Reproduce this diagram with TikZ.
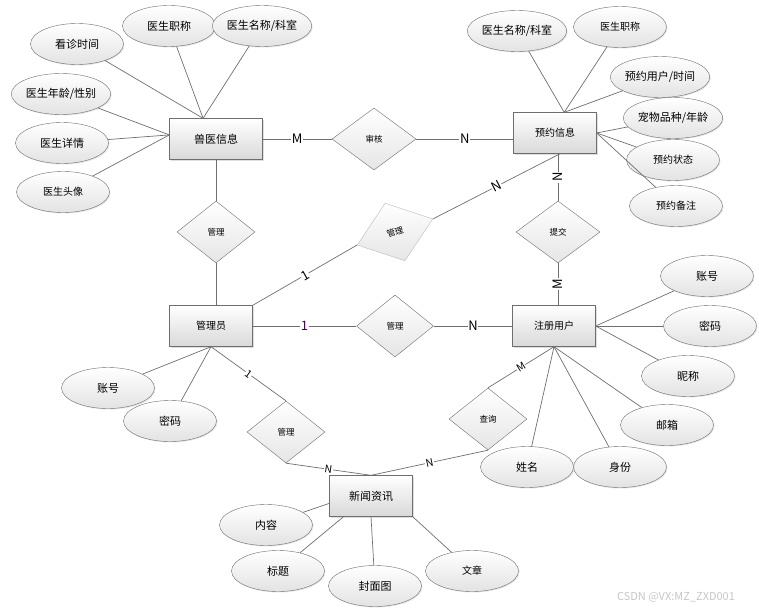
\documentclass[tikz,border=0pt]{standalone}
\usepackage{fontspec}
\setmainfont{Noto Sans CJK SC}
\usetikzlibrary{shapes.geometric, shadows}
\definecolor{linegray}{RGB}{110,110,110}
\definecolor{darkplum}{RGB}{70,0,80}

\begin{document}
\begin{tikzpicture}[x=1pt,y=-1pt,
		entity/.style={rectangle, draw=linegray, minimum width=83pt, minimum height=41pt, top color=white, bottom color=gray!30, drop shadow={opacity=0.25, shadow xshift=1.5pt, shadow yshift=-1.5pt}, font=\fontsize{11}{11}\selectfont},
		attr/.style={ellipse, draw=linegray, minimum width=93pt, minimum height=41pt, inner sep=0pt, top color=white, bottom color=gray!22, drop shadow={opacity=0.2, shadow xshift=1pt, shadow yshift=-1pt}, font=\fontsize{11}{11}\selectfont},
		rel/.style={diamond, draw=linegray, minimum width=78pt, minimum height=62pt, inner sep=0pt, top color=white, bottom color=gray!20, font=\fontsize{8.5}{8.5}\selectfont},
		card/.style={fill=white, inner sep=0.6pt, font=\fontsize{13}{13}\selectfont},
		small/.style={font=\fontsize{10.5}{10.5}\selectfont},
		conn/.style={draw=linegray, line width=0.7pt}]
	\useasboundingbox (0,0) rectangle (759,610);
	% entities
	\node[entity, minimum width=93pt] (vet) at (216,139) {兽医信息};
	\node[entity, font=\fontsize{10}{10}\selectfont] (appt) at (555,133) {预约信息};
	\node[entity, font=\fontsize{10}{10}\selectfont] (admin) at (211,326) {管理员};
	\node[entity, font=\fontsize{10}{10}\selectfont] (user) at (554,326) {注册用户};
	\node[entity] (news) at (371,496) {新闻资讯};
	% relations
	\node[rel, minimum width=84pt] (audit) at (374,139) {审核};
	\node[rel] (manage_v) at (216,232) {管理};
	\node[rel, rotate=19, draw=gray!55, minimum width=80pt, minimum height=61pt] (manage_a) at (395,232) {管理};
	\node[rel, minimum width=77pt] (manage_u) at (395,326) {管理};
	\node[rel, minimum width=84pt] (submit) at (558,232) {提交};
	\node[rel] (manage_n) at (286,432) {管理};
	\node[rel] (query) at (488,419) {查询};
	% attributes of vet
	\node[attr] (vet_time) at (77,44) {看诊时间};
	\node[attr] (vet_title) at (169,26) {医生职称};
	\node[attr] (vet_name) at (262,26) {医生名称/科室};
	\node[attr] (vet_age) at (61,94) {医生年龄/性别};
	\node[attr] (vet_info) at (62,143) {医生详情};
	\node[attr, font=\fontsize{10}{10}\selectfont] (vet_photo) at (63,192) {医生头像};
	% attributes of appointment
	\node[attr] (appt_name) at (517,31) {医生名称/科室};
	\node[attr, font=\fontsize{10}{10}\selectfont] (appt_title) at (620,27) {医生职称};
	\node[attr] (appt_user) at (660,77) {预约用户/时间};
	\node[attr] (appt_pet) at (673,118) {宠物品种/年龄};
	\node[attr, font=\fontsize{10}{10}\selectfont] (appt_state) at (673,160) {预约状态};
	\node[attr, font=\fontsize{10}{10}\selectfont] (appt_note) at (676,206) {预约备注};
	% attributes of admin
	\node[attr] (admin_acc) at (108,388) {账号};
	\node[attr] (admin_pwd) at (170,421) {密码};
	% attributes of user
	\node[attr] (user_acc) at (707,276) {账号};
	\node[attr] (user_pwd) at (710,326) {密码};
	\node[attr] (user_nick) at (688,376) {昵称};
	\node[attr] (user_mail) at (667,425) {邮箱};
	\node[attr] (user_id) at (620,467) {身份};
	\node[attr] (user_name) at (527,467) {姓名};
	% attributes of news
	\node[attr] (news_body) at (266,525) {内容};
	\node[attr] (news_head) at (278,571) {标题};
	\node[attr] (news_cover) at (375,586) {封面图};
	\node[attr, font=\fontsize{10}{10}\selectfont] (news_text) at (472,571) {文章};

	\path[conn]
		(vet_time) edge (vet.122)
		(vet_title) edge (vet.122)
		(vet_name) edge (vet.122)
		(vet_age) edge (vet.175)
		(vet_info) edge (vet.175)
		(vet_photo) edge (vet.175)
		(appt_name) edge (appt.66)
		(appt_title) edge (appt.66)
		(appt_user) edge (appt.66)
		(appt_pet) edge (appt.east)
		(appt_state) edge (appt.east)
		(appt_note) edge (appt.east)
		(admin_acc) edge (admin.south)
		(admin_pwd) edge (admin.south)
		(user_acc) edge (user.east)
		(user_pwd) edge (user.east)
		(user_nick) edge (user.east)
		(user_mail) edge (user.south)
		(user_id) edge (user.south)
		(user_name) edge (user.south)
		(news_body) edge (news.190)
		(news_head) edge (news.217)
		(news_cover) edge (news.south)
		(news_text) edge (news.south east);

	\path[conn]
		(vet) edge node[card] {M} (audit)
		(audit) edge node[card] {N} (audit -| appt.west)
		(vet) edge (manage_v)
		(manage_v) edge (manage_v |- admin.north)
		(submit |- appt.south) edge node[card, rotate=90] {N} (submit)
		(submit) edge node[card, rotate=90] {M} (submit |- user.north)
		(admin.north east) edge node[card, sloped] {1} (manage_a.west)
		(manage_a.east) edge node[card, sloped] {N} (appt.284)
		(admin) edge node[card, text=darkplum] {1} (manage_u)
		(manage_u) edge node[card] {N} (user)
		(admin.south) edge node[card, sloped, small] {1} (manage_n.north)
		(manage_n.south) edge node[card, sloped, small] {N} (news.north)
		(user.south) edge node[card, sloped, small] {M} (query.north)
		(query.south) edge node[card, sloped, small] {N} (news.north);

	\node[text=gray!45, font=\fontsize{11}{11}\selectfont] (mark) at (676,597) {CSDN @VX:MZ\_ZXD001};
\end{tikzpicture}
\end{document}
